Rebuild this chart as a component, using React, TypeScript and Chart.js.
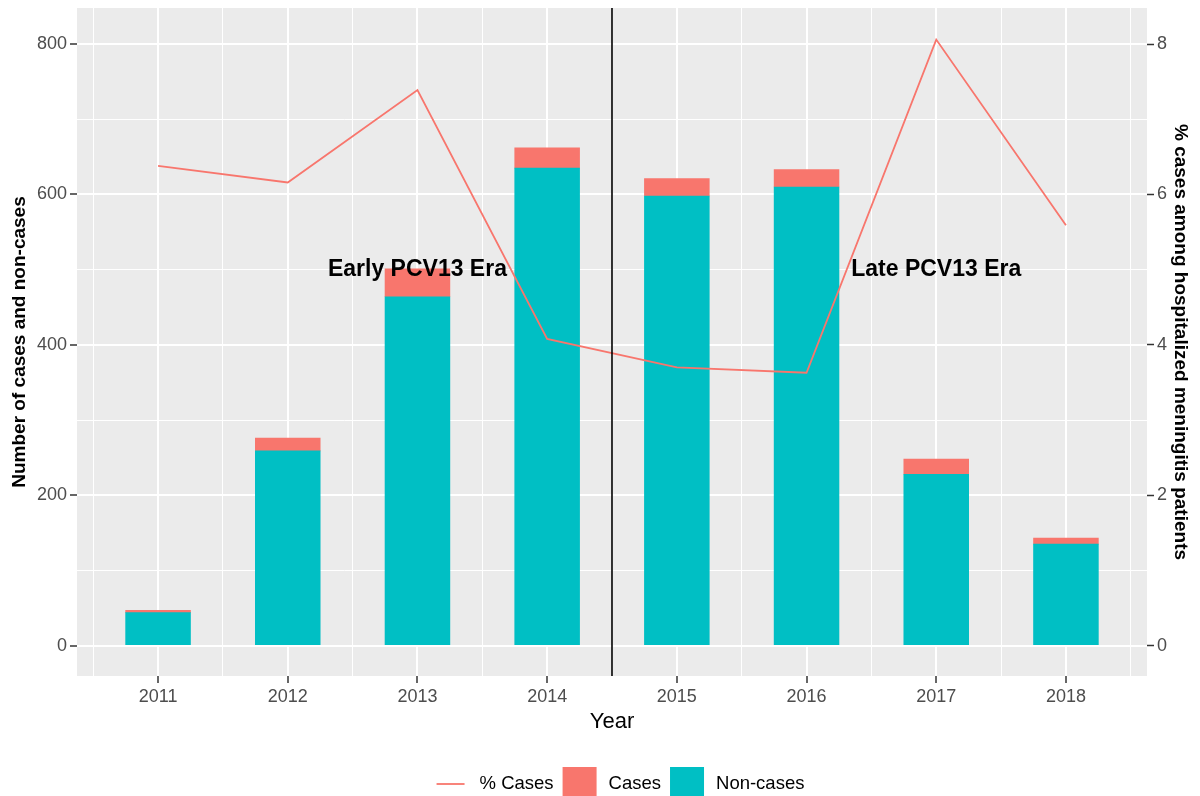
import React, { useEffect, useRef } from "react";
import { Chart, registerables } from "chart.js";

Chart.register(...registerables);

// ---- data ----
const years = [2011, 2012, 2013, 2014, 2015, 2016, 2017, 2018];
const nonCases = [44, 259, 464, 635, 598, 610, 228, 135];
const cases = [3, 17, 37, 27, 23, 23, 20, 8];
const pctCases = [6.38, 6.16, 7.39, 4.08, 3.7, 3.63, 8.06, 5.59];
const leftTickLabels = [0, 200, 400, 600, 800];
const rightTickLabels = [0, 2, 4, 6, 8];
const eraBoundary = 2014.5;
const eraLabels = ["Early PCV13 Era", "Late PCV13 Era"];
const eraLabelYears = [2013, 2017];
const eraLabelValues = [500, 500];
const legendLabels = ["% Cases", "Cases", "Non-cases"];

// ---- styling ----
const FONT = "'Liberation Sans', Arial, Helvetica, sans-serif";
const RED = "#F8766D";
const TEAL = "#00BFC4";
const PANEL = "#EBEBEB";
const TICK_TEXT = "#4D4D4D";
const SEC_RATIO = 100; // right axis = left / 100

const yMin = -40.3;
const yMax = 848;
const xMin = 2010.375;
const xMax = 2018.625;

const xGrid: number[] = [];
years.forEach((y) => {
  xGrid.push(y - 0.5, y);
});
xGrid.push(years[years.length - 1] + 0.5);

const yGrid: number[] = [];
leftTickLabels.forEach((v, i) => {
  yGrid.push(v);
  if (i < leftTickLabels.length - 1) yGrid.push((v + leftTickLabels[i + 1]) / 2);
});
const y2Grid: number[] = [];
rightTickLabels.forEach((v, i) => {
  y2Grid.push(v);
  if (i < rightTickLabels.length - 1) y2Grid.push((v + rightTickLabels[i + 1]) / 2);
});

const panelPlugin = {
  id: "panelBg",
  beforeDraw(chart: any) {
    const { ctx, chartArea } = chart;
    ctx.save();
    ctx.fillStyle = PANEL;
    ctx.fillRect(chartArea.left, chartArea.top, chartArea.right - chartArea.left, chartArea.bottom - chartArea.top);
    ctx.restore();
  },
};

const overlayPlugin = {
  id: "overlay",
  afterDatasetsDraw(chart: any) {
    const { ctx, chartArea, scales } = chart;
    const x = scales.x.getPixelForValue(eraBoundary);
    ctx.save();
    ctx.strokeStyle = "#000000";
    ctx.lineWidth = 1.6;
    ctx.beginPath();
    ctx.moveTo(x, chartArea.top);
    ctx.lineTo(x, chartArea.bottom);
    ctx.stroke();

    ctx.fillStyle = "#000000";
    ctx.font = `bold 23px ${FONT}`;
    ctx.textAlign = "center";
    ctx.textBaseline = "middle";
    eraLabels.forEach((t, i) => {
      ctx.fillText(t, scales.x.getPixelForValue(eraLabelYears[i]), scales.y.getPixelForValue(eraLabelValues[i]));
    });
    ctx.restore();
  },
};

const legendPlugin = {
  id: "ggLegend",
  afterDraw(chart: any) {
    const { ctx, chartArea } = chart;
    ctx.save();
    ctx.font = `18.5px ${FONT}`;
    const keyW = 34;
    const gapKT = 12;
    const gapItem = 9;
    const widths = legendLabels.map((l) => ctx.measureText(l).width);
    const total = widths.reduce((a, w) => a + keyW + gapKT + w, 0) + gapItem * (legendLabels.length - 1);
    let x = (chartArea.left + chartArea.right) / 2 + 7 - total / 2;
    const cy = 784;
    legendLabels.forEach((l, i) => {
      if (i === 0) {
        ctx.strokeStyle = RED;
        ctx.lineWidth = 1.8;
        ctx.beginPath();
        ctx.moveTo(x + 3, cy);
        ctx.lineTo(x + keyW - 3, cy);
        ctx.stroke();
      } else {
        ctx.fillStyle = i === 1 ? RED : TEAL;
        ctx.fillRect(x, cy - 17, keyW, 34);
      }
      x += keyW + gapKT;
      ctx.fillStyle = "#000000";
      ctx.textAlign = "left";
      ctx.textBaseline = "middle";
      ctx.fillText(l, x, cy);
      x += widths[i] + gapItem;
    });
    ctx.restore();
  },
};

export default function App() {
  const canvasRef = useRef<HTMLCanvasElement | null>(null);

  useEffect(() => {
    document.body.style.margin = "0";
    const canvas = canvasRef.current;
    if (!canvas) return;

    const gridColor = "#FFFFFF";
    const chart = new Chart(canvas, {
      type: "bar",
      data: {
        datasets: [
          {
            type: "line",
            label: "% Cases",
            data: years.map((y, i) => ({ x: y, y: pctCases[i] })),
            yAxisID: "y2",
            xAxisID: "x",
            borderColor: RED,
            backgroundColor: RED,
            borderWidth: 1.8,
            pointRadius: 0,
            tension: 0,
            order: 0,
          } as any,
          {
            type: "bar",
            label: "Non-cases",
            data: years.map((y, i) => ({ x: y, y: nonCases[i] })),
            yAxisID: "y",
            xAxisID: "x",
            backgroundColor: TEAL,
            borderWidth: 0,
            barPercentage: 1,
            categoryPercentage: 1,
            order: 1,
          },
          {
            type: "bar",
            label: "Cases",
            data: years.map((y, i) => ({ x: y, y: cases[i] })),
            yAxisID: "y",
            xAxisID: "x",
            backgroundColor: RED,
            borderWidth: 0,
            barPercentage: 1,
            categoryPercentage: 1,
            order: 1,
          },
        ],
      },
      options: {
        responsive: true,
        maintainAspectRatio: false,
        animation: false,
        events: [],
        layout: { padding: { top: 8, bottom: 61, left: 0, right: 0 } },
        plugins: {
          legend: { display: false },
          tooltip: { enabled: false },
          title: { display: false },
        },
        scales: {
          x: {
            type: "linear",
            position: "bottom",
            min: xMin,
            max: xMax,
            bounds: "data",
            offset: false,
            stacked: true,
            afterBuildTicks: (scale: any) => {
              scale.ticks = xGrid.map((v) => ({ value: v }));
            },
            afterFit: (scale: any) => {
              scale.height = 59;
              scale.paddingLeft = 0;
              scale.paddingRight = 0;
            },
            border: { display: false },
            grid: {
              offset: false,
              color: gridColor,
              lineWidth: (c: any) => (years.includes(c.tick?.value) ? 2 : 1),
              tickColor: (c: any) => (years.includes(c.tick?.value) ? "#333333" : "rgba(0,0,0,0)"),
              tickWidth: 1.5,
              tickLength: 7,
              drawTicks: true,
            },
            ticks: {
              autoSkip: false,
              maxRotation: 0,
              padding: 3,
              color: TICK_TEXT,
              font: { family: FONT, size: 18 },
              callback: (v: any) => (years.includes(Number(v)) ? String(v) : ""),
            },
            title: {
              display: true,
              text: "Year",
              color: "#000000",
              font: { family: FONT, size: 22 },
              padding: 0,
            },
          },
          y: {
            type: "linear",
            position: "left",
            min: yMin,
            max: yMax,
            bounds: "data",
            stacked: true,
            afterBuildTicks: (scale: any) => {
              scale.ticks = yGrid.map((v) => ({ value: v }));
            },
            afterFit: (scale: any) => {
              scale.width = 77;
              scale.paddingTop = 0;
              scale.paddingBottom = 0;
            },
            border: { display: false },
            grid: {
              color: gridColor,
              lineWidth: (c: any) => (leftTickLabels.includes(c.tick?.value) ? 2 : 1),
              tickColor: (c: any) => (leftTickLabels.includes(c.tick?.value) ? "#333333" : "rgba(0,0,0,0)"),
              tickWidth: 1.5,
              tickLength: 7,
            },
            ticks: {
              autoSkip: false,
              padding: 3,
              color: TICK_TEXT,
              font: { family: FONT, size: 18 },
              callback: (v: any) => (leftTickLabels.includes(Number(v)) ? String(v) : ""),
            },
            title: {
              display: true,
              text: "Number of cases and non-cases",
              color: "#000000",
              font: { family: FONT, size: 19, weight: "bold" },
              padding: { top: 8, bottom: 0 },
            },
          },
          y2: {
            type: "linear",
            position: "right",
            min: yMin / SEC_RATIO,
            max: yMax / SEC_RATIO,
            bounds: "data",
            stacked: false,
            afterBuildTicks: (scale: any) => {
              scale.ticks = y2Grid.map((v) => ({ value: v }));
            },
            afterFit: (scale: any) => {
              scale.width = 53;
              scale.paddingTop = 0;
              scale.paddingBottom = 0;
            },
            border: { display: false },
            grid: {
              drawOnChartArea: false,
              color: gridColor,
              tickColor: (c: any) => (rightTickLabels.includes(c.tick?.value) ? "#333333" : "rgba(0,0,0,0)"),
              tickWidth: 1.5,
              tickLength: 7,
            },
            ticks: {
              autoSkip: false,
              padding: 3,
              color: TICK_TEXT,
              font: { family: FONT, size: 18 },
              callback: (v: any) => (rightTickLabels.includes(Number(v)) ? String(v) : ""),
            },
            title: {
              display: true,
              text: "% cases among hospitalized meningitis patients",
              color: "#000000",
              font: { family: FONT, size: 19, weight: "bold" },
              padding: { top: 8, bottom: 0 },
            },
          },
        },
      } as any,
      plugins: [panelPlugin, overlayPlugin, legendPlugin],
    });

    return () => {
      chart.destroy();
    };
  }, []);

  return (
    <div style={{ position: "relative", width: 1200, height: 796, background: "#FFFFFF" }}>
      <canvas ref={canvasRef} />
    </div>
  );
}
